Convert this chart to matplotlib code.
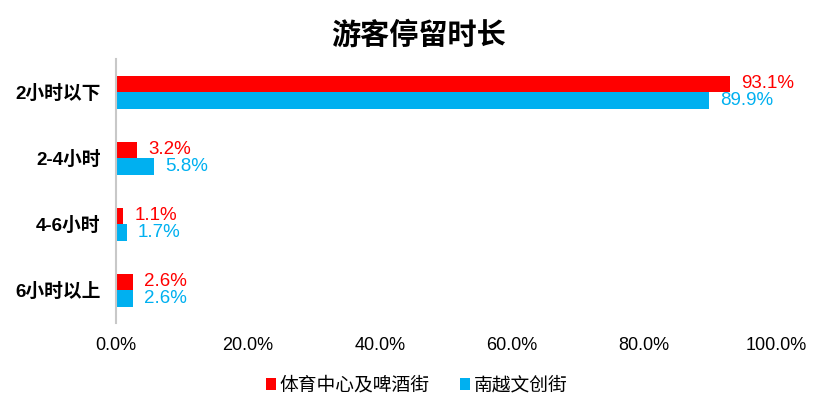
import matplotlib
matplotlib.use('Agg')
import matplotlib.pyplot as plt
import numpy as np

plt.rcParams['font.family'] = ['Liberation Sans', 'Noto Sans CJK SC', 'DejaVu Sans']

categories = ['2小时以下', '2-4小时', '4-6小时', '6小时以上']
series_names = ['体育中心及啤酒街', '南越文创街']
sports_beer = [93.1, 3.2, 1.1, 2.6]
nanyue = [89.9, 5.8, 1.7, 2.6]
colors = ['#FF0000', '#00B0F0']
x_ticks = [0, 20, 40, 60, 80, 100]

fig = plt.figure(figsize=(8.33, 4.17), dpi=100)
ax = fig.add_axes([0.139, 0.2254, 0.7924, 0.6331])

y = np.arange(len(categories))
h = 0.25
for vals, off, col, name in [(sports_beer, -h / 2, colors[0], series_names[0]),
                             (nanyue, h / 2, colors[1], series_names[1])]:
    bars = ax.barh(y + off, vals, height=h, color=col, label=name)
    for b, v in zip(bars, vals):
        ax.annotate(f'{v:.1f}%', (b.get_width(), b.get_y() + b.get_height() / 2),
                    xytext=(8, 0), textcoords='offset points',
                    ha='left', va='center', color=col, fontsize=13.5)

ax.set_ylim(len(categories) - 0.5, -0.5)
ax.set_xlim(0, 100)
ax.set_yticks(y)
ax.set_yticklabels(categories, fontsize=13.5, fontweight='bold')
ax.set_xticks(x_ticks)
ax.set_xticklabels([f'{t:.1f}%' for t in x_ticks], fontsize=13)
ax.tick_params(axis='both', length=0)
ax.tick_params(axis='y', pad=11)
ax.tick_params(axis='x', pad=10)
for s in ['top', 'right', 'bottom']:
    ax.spines[s].set_visible(False)
ax.spines['left'].set_color('#C8C8C8')
ax.spines['left'].set_linewidth(1.5)

fig.suptitle('游客停留时长', x=0.502, y=0.95, fontsize=21, fontweight='bold')

handles, labels = ax.get_legend_handles_labels()
fig.legend(handles, labels, loc='center', bbox_to_anchor=(0.5, 0.075), ncol=2,
           frameon=False, fontsize=13.5, handlelength=0.55, handleheight=0.55,
           handletextpad=0.2, columnspacing=1.6)

fig.savefig('out.png', dpi=100)
